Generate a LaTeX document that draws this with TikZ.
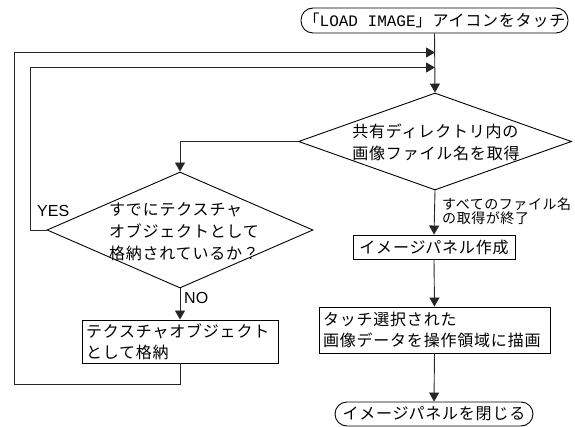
\documentclass[tikz,border=0pt]{standalone}
\usepackage{fontspec}
\setmainfont{Noto Sans CJK JP}[LetterSpace=5]
\newfontfamily\jpsmall{Noto Sans CJK JP}[LetterSpace=4]
\newfontfamily\latinmono{Liberation Mono}
\newfontfamily\latinsans{Liberation Sans}
\usetikzlibrary{shapes.geometric,arrows.meta}
\tikzset{
  line/.style={draw=black!85, line width=0.9pt},
  arr/.style={line, -{Triangle[length=9pt,width=10pt]}},
  term/.style={draw=black, line width=0.9pt, rounded corners=12pt, inner sep=0pt, align=center,
    font=\fontsize{16}{21}\selectfont},
  procbox/.style={draw=black, line width=0.9pt, inner sep=0pt, align=left,
    font=\fontsize{16}{21}\selectfont},
  decision/.style={draw=black, line width=0.9pt, diamond, aspect=2.8, inner sep=0pt, align=left,
    font=\fontsize{16}{21.5}\selectfont},
  small/.style={font=\jpsmall\fontsize{14}{14}\selectfont, align=left, inner sep=0pt},
  yn/.style={font=\latinsans\fontsize{16}{16}\selectfont, inner sep=0pt}
}
\begin{document}
\begin{tikzpicture}[x=1pt,y=-1pt]
\useasboundingbox (0,0) rectangle (575,427);
% nodes
\node[term, minimum width=267pt, minimum height=25pt] (start) at (434.5,20.5)
  {「{\latinmono LOAD IMAGE}」アイコンをタッチ};
\node[decision, minimum width=273pt, minimum height=97pt] (d1) at (435,141.5) {};
\node[align=left, inner sep=0pt, font=\fontsize{16}{21.5}\selectfont] (d1t) at (436,142.5)
  {共有ディレクトリ内の\\画像ファイル名を取得};
\node[decision, minimum width=266pt, minimum height=116pt] (d2) at (180,230) {};
\node[align=left, inner sep=0pt, font=\fontsize{16}{22}\selectfont] (d2t) at (184,232)
  {すでにテクスチャ\\オブジェクトとして\\格納されているか？};
\node[procbox, minimum width=196pt, minimum height=43pt, text width=188pt] (b2) at (180,341.5)
  {テクスチャオブジェクト\\として格納};
\node[procbox, minimum width=162pt, minimum height=24pt, align=center] (b1) at (434,247)
  {イメージパネル作成};
\node[procbox, minimum width=231pt, minimum height=46pt, text width=223pt] (b3) at (434.5,330)
  {タッチ選択された\\画像データを操作領域に描画};
\node[term, minimum width=198pt, minimum height=24pt] (end) at (434,414)
  {イメージパネルを閉じる};
\node[small, anchor=west] (lab) at (442,211.5) {すべてのファイル名\\の取得が終了};
\node[yn, anchor=west] (yes) at (37,211) {YES};
\node[yn, anchor=west] (no) at (184,298) {NO};
% coordinates
\coordinate (m1) at (435,52.5);
\coordinate (m2) at (435,67.5);
% connectors
\draw[arr] (start.south) -- (d1.north);
\draw[arr] (b2.south) |- (14,384) -- (14,52.5) -- (m1);
\draw[arr] (d2.west) -- (30,230) -- (30,67.5) -- (m2);
\draw[arr] (d1.west) -| (d2.north);
\draw[arr] (d2.south) -- (b2.north);
\draw[arr] (d1.south) -- (b1.north);
\draw[arr] (b1.south) -- (b3.north);
\draw[arr] (b3.south) -- (end.north);
\end{tikzpicture}
\end{document}
